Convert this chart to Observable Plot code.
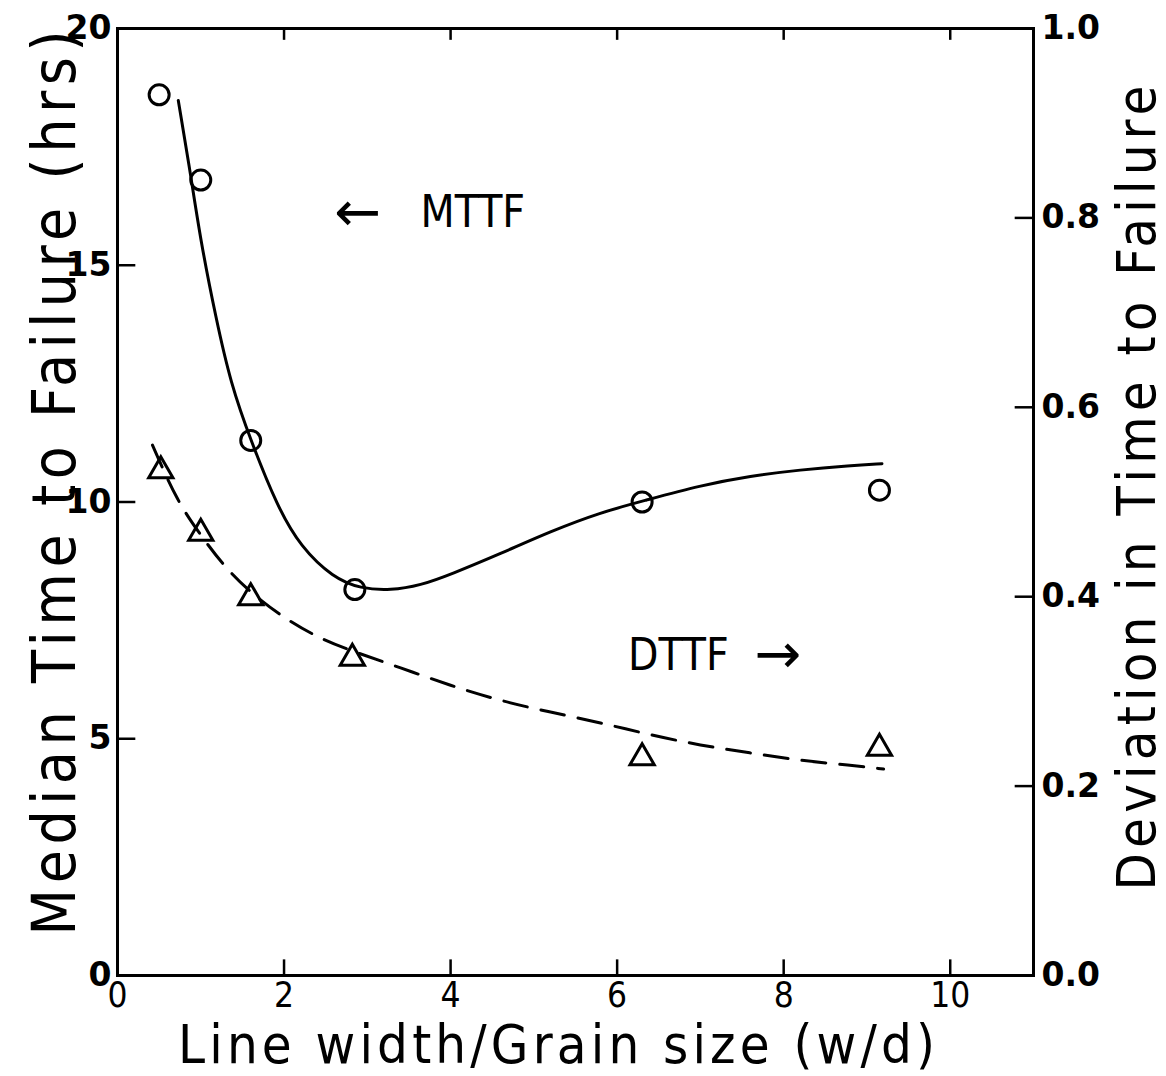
<!DOCTYPE html>
<html>
<head>
<meta charset="utf-8">
<script src="https://cdn.jsdelivr.net/npm/d3@7"></script>
<script src="https://cdn.jsdelivr.net/npm/@observablehq/plot@0.6"></script>
<style>
  html, body { margin: 0; padding: 0; background: #fff; }
  #chart { width: 1166px; height: 1076px; }
</style>
</head>
<body>
<div id="chart"></div>
<script>
// ---- data ----
const xTicks = [0, 2, 4, 6, 8, 10];
const yTicks = [0, 5, 10, 15, 20];
const rightTicks = [0.0, 0.2, 0.4, 0.6, 0.8, 1.0];
const rightMax = 1.0;  // right axis top (maps to left 20)
const leftMax = 20;

// MTTF measured points (hrs)
const mttfX = [0.5, 1.0, 1.6, 2.85, 6.3, 9.15];
const mttfY = [18.6, 16.8, 11.3, 8.15, 10.0, 10.25];

// DTTF measured points (deviation)
const dttfX = [0.52, 1.0, 1.6, 2.82, 6.3, 9.15];
const dttfY = [0.533, 0.467, 0.399, 0.335, 0.23, 0.24];

// MTTF fitted curve
const mttfFitX = [0.73, 0.88, 1.0, 1.18, 1.36, 1.6, 1.92, 2.2, 2.59, 2.92, 3.28, 3.64, 4.0, 4.6, 5.2, 5.8, 6.33, 7.0, 7.6, 8.2, 8.8, 9.18];
const mttfFitY = [18.48, 16.9, 15.5, 13.9, 12.5, 11.3, 9.9, 9.05, 8.4, 8.17, 8.13, 8.24, 8.47, 8.91, 9.38, 9.78, 10.03, 10.35, 10.55, 10.68, 10.77, 10.81];

// DTTF fitted curve
const dttfFitX = [0.42, 0.72, 1.0, 1.27, 1.6, 1.99, 2.4, 2.8, 3.4, 4.0, 4.6, 5.2, 5.8, 6.4, 7.0, 7.6, 8.2, 8.8, 9.2];
const dttfFitY = [0.56, 0.50, 0.465, 0.433, 0.404, 0.378, 0.357, 0.343, 0.325, 0.306, 0.29, 0.278, 0.267, 0.254, 0.243, 0.235, 0.227, 0.222, 0.218];

const labels = {
  x: "Line width/Grain size (w/d)",
  yLeft: "Median Time to Failure (hrs)",
  yRight: "Deviation in Time to Failure",
  mttf: "MTTF",
  dttf: "DTTF",
  leftArrow: "\u2190",
  rightArrow: "\u2192"
};

// ---- chart ----
const k = leftMax / rightMax;
const idx = a => a.map((_, i) => i);
const titleFont = "'Liberation Sans Narrow', 'DejaVu Sans Condensed', sans-serif";
const tickFont = "'DejaVu Sans', sans-serif";

const chart = Plot.plot({
  width: 1166,
  height: 1076,
  marginLeft: 117,
  marginRight: 133,
  marginTop: 28,
  marginBottom: 101,
  style: { background: "#fff", color: "#000", overflow: "visible" },
  x: { domain: [0, 11] },
  y: { domain: [0, 20] },
  marks: [
    // inward ticks
    Plot.ruleX(xTicks.slice(1), { y1: 0, y2: 0.33, stroke: "#000", strokeWidth: 2.5 }),
    Plot.ruleX(xTicks.slice(1), { y1: 20, y2: 19.75, stroke: "#000", strokeWidth: 2.5 }),
    Plot.ruleY(yTicks.slice(1, -1), { x1: 0, x2: 0.22, stroke: "#000", strokeWidth: 2.5 }),
    Plot.ruleY(rightTicks.slice(1, -1).map(v => v * k), { x1: 11, x2: 10.78, stroke: "#000", strokeWidth: 2.5 }),
    // axes tick labels
    Plot.axisX(xTicks, { tickSize: 0, tickPadding: 7, fontSize: 35, fontFamily: titleFont, label: null }),
    Plot.axisY(yTicks, { anchor: "left", tickSize: 0, tickPadding: 6, fontSize: 33, fontFamily: tickFont, fontWeight: "bold", label: null }),
    Plot.axisY(rightTicks.map(v => v * k), { anchor: "right", tickSize: 0, tickPadding: 8, fontSize: 33, fontFamily: tickFont, fontWeight: "bold", tickFormat: d => (d / k).toFixed(1), label: null }),
    // axis titles
    Plot.text([labels.x], { frameAnchor: "bottom", dx: -19, dy: 70, lineAnchor: "middle", textAnchor: "middle", text: d => d, fontSize: 54, fontFamily: titleFont }),
    Plot.text([labels.yLeft], { frameAnchor: "left", dx: -62, dy: -19, lineAnchor: "middle", textAnchor: "middle", rotate: -90, text: d => d, fontSize: 60, fontFamily: titleFont }),
    Plot.text([labels.yRight], { frameAnchor: "right", dx: 104, dy: -14, lineAnchor: "middle", textAnchor: "middle", rotate: -90, text: d => d, fontSize: 54, fontFamily: titleFont }),
    // fitted curves
    Plot.line(idx(mttfFitX), { x: i => mttfFitX[i], y: i => mttfFitY[i], curve: "basis", stroke: "#000", strokeWidth: 3 }),
    Plot.line(idx(dttfFitX), { x: i => dttfFitX[i], y: i => dttfFitY[i] * k, curve: "basis", stroke: "#000", strokeWidth: 3, strokeDasharray: "24,14" }),
    // measured points
    Plot.dot(idx(mttfX), { x: i => mttfX[i], y: i => mttfY[i], r: 10, stroke: "#000", strokeWidth: 3, fill: "none" }),
    Plot.dot(idx(dttfX), { x: i => dttfX[i], y: i => dttfY[i] * k, symbol: "triangle", r: 9, stroke: "#000", strokeWidth: 3, fill: "none" }),
    // annotations
    Plot.text([labels.leftArrow], { x: 2.6, y: 16.1, text: d => d, textAnchor: "start", fontSize: 56, fontFamily: tickFont }),
    Plot.text([labels.mttf], { x: 3.64, y: 16.1, text: d => d, textAnchor: "start", fontSize: 44, fontFamily: titleFont }),
    Plot.text([labels.dttf], { x: 6.13, y: 6.76, text: d => d, textAnchor: "start", fontSize: 44, fontFamily: titleFont }),
    Plot.text([labels.rightArrow], { x: 7.65, y: 6.76, text: d => d, textAnchor: "start", fontSize: 56, fontFamily: tickFont }),
    Plot.frame({ stroke: "#000", strokeWidth: 3 })
  ]
});
document.getElementById("chart").appendChild(chart);

// stretch axis titles to the lengths they span in the reference
const targetLen = { [labels.x]: 757, [labels.yLeft]: 905, [labels.yRight]: 805 };
d3.select(chart).selectAll("text").each(function () {
  const t = this.textContent;
  if (targetLen[t]) {
    this.setAttribute("textLength", targetLen[t]);
    this.setAttribute("lengthAdjust", "spacing");
  }
});
</script>
</body>
</html>
